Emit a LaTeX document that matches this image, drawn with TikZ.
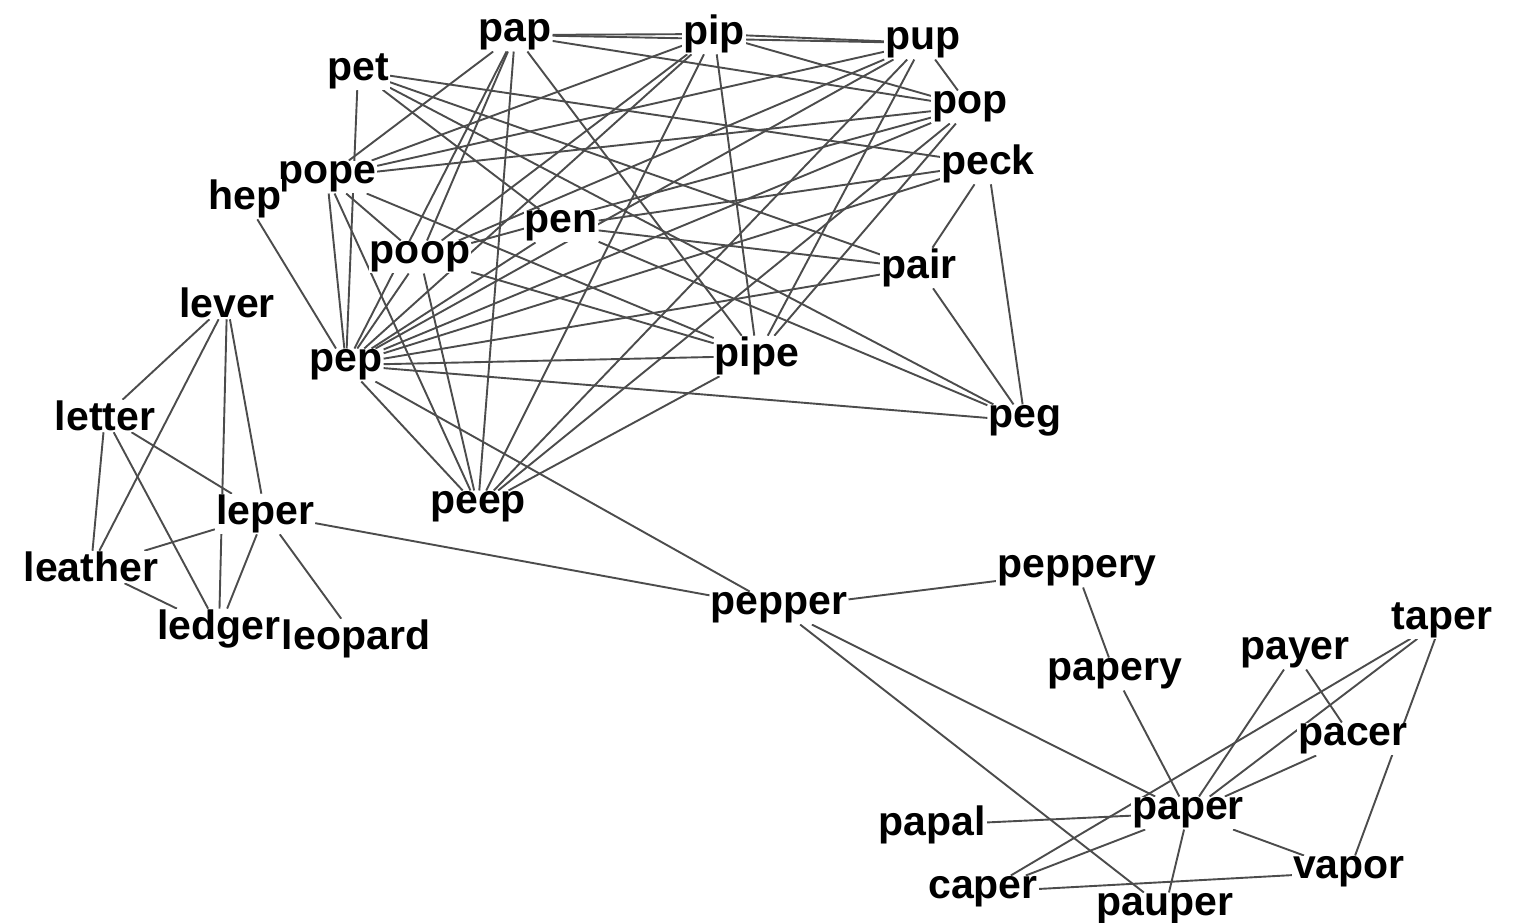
\documentclass[tikz,border=0pt]{standalone}
\usepackage{fontspec}
\setmainfont{Liberation Sans}
\usetikzlibrary{backgrounds}
\begin{document}
\begin{tikzpicture}[x=1pt,y=-1pt,
  w/.style={font=\fontsize{41}{41}\selectfont\bfseries, fill=white, inner sep=1pt, text=black, yshift=-4pt},
  e/.style={draw=black!70, line width=1.9pt}]
\useasboundingbox (0,0) rectangle (1523,922);
% top cluster
\node[w] (pap) at (515,31) {pap};
\node[w] (pip) at (714,30) {pip};
\node[w] (pup) at (923,39) {pup};
\node[w] (pop) at (970,103) {pop};
\node[w] (peck) at (988,160) {peck};
\node[w] (pet) at (358,67) {pet};
\node[w] (pope) at (327,173) {pope};
\node[w] (hep) at (245,195) {hep};
\node[w] (pen) at (561,222) {pen};
\node[w] (poop) at (420,253) {poop};
\node[w] (pair) at (919,264) {pair};
\node[w] (pep) at (346,361) {pep};
\node[w] (pipe) at (757,352) {pipe};
\node[w] (peg) at (1025,417) {peg};
\node[w] (peep) at (478,503) {peep};
% left cluster
\node[w] (lever) at (227,299) {lever};
\node[w] (letter) at (105,412) {letter};
\node[w] (leper) at (265,510) {leper};
\node[w] (leather) at (91,563) {leather};
\node[w] (ledger) at (219,625) {ledger};
\node[w] (leopard) at (356,635) {leopard};
% bottom cluster
\node[w] (pepper) at (779,604) {pepper};
\node[w] (peppery) at (1077,567) {peppery};
\node[w] (papery) at (1115,670) {papery};
\node[w] (paper) at (1188,809) {paper};
\node[w] (papal) at (932,821) {papal};
\node[w] (caper) at (983,888) {caper};
\node[w] (pauper) at (1165,905) {pauper};
\node[w] (taper) at (1442,616) {taper};
\node[w] (payer) at (1295,649) {payer};
\node[w] (pacer) at (1353,735) {pacer};
\node[w] (vapor) at (1349,868) {vapor};
\begin{scope}[on background layer]
\fill[white] (0,0) rectangle (1523,922);
\foreach \a/\b in {pap/pip, pap/pup, pap/pop, pap/pope, pap/poop, pap/pep, pap/pipe, pap/peep,
  pip/pup, pip/pop, pip/pope, pip/poop, pip/pep, pip/pipe, pip/peep,
  pup/pop, pup/pope, pup/poop, pup/pep, pup/pipe, pup/peep,
  pop/pope, pop/poop, pop/pep, pop/pipe, pop/peep,
  pope/poop, pope/pep, pope/pipe, pope/peep,
  poop/pep, poop/pipe, poop/peep,
  pep/pipe, pep/peep, pipe/peep,
  pep/pet, pep/peck, pep/pair, pep/peg, pep/pen,
  pet/peck, pet/pair, pet/peg, pet/pen,
  peck/pair, peck/peg, peck/pen, pair/peg, pair/pen, peg/pen,
  hep/pep, pep/pepper,
  lever/letter, lever/leper, lever/leather, lever/ledger,
  letter/leper, letter/leather, letter/ledger,
  leper/leather, leper/ledger, leather/ledger, leper/leopard, leper/pepper,
  pepper/peppery, pepper/paper, pepper/pauper, peppery/papery, papery/paper,
  paper/papal, paper/caper, paper/taper, paper/payer, paper/pacer, paper/vapor, paper/pauper,
  caper/taper, caper/vapor, taper/vapor, payer/pacer}
  \draw[e] (\a) -- (\b);
\end{scope}
\end{tikzpicture}
\end{document}
